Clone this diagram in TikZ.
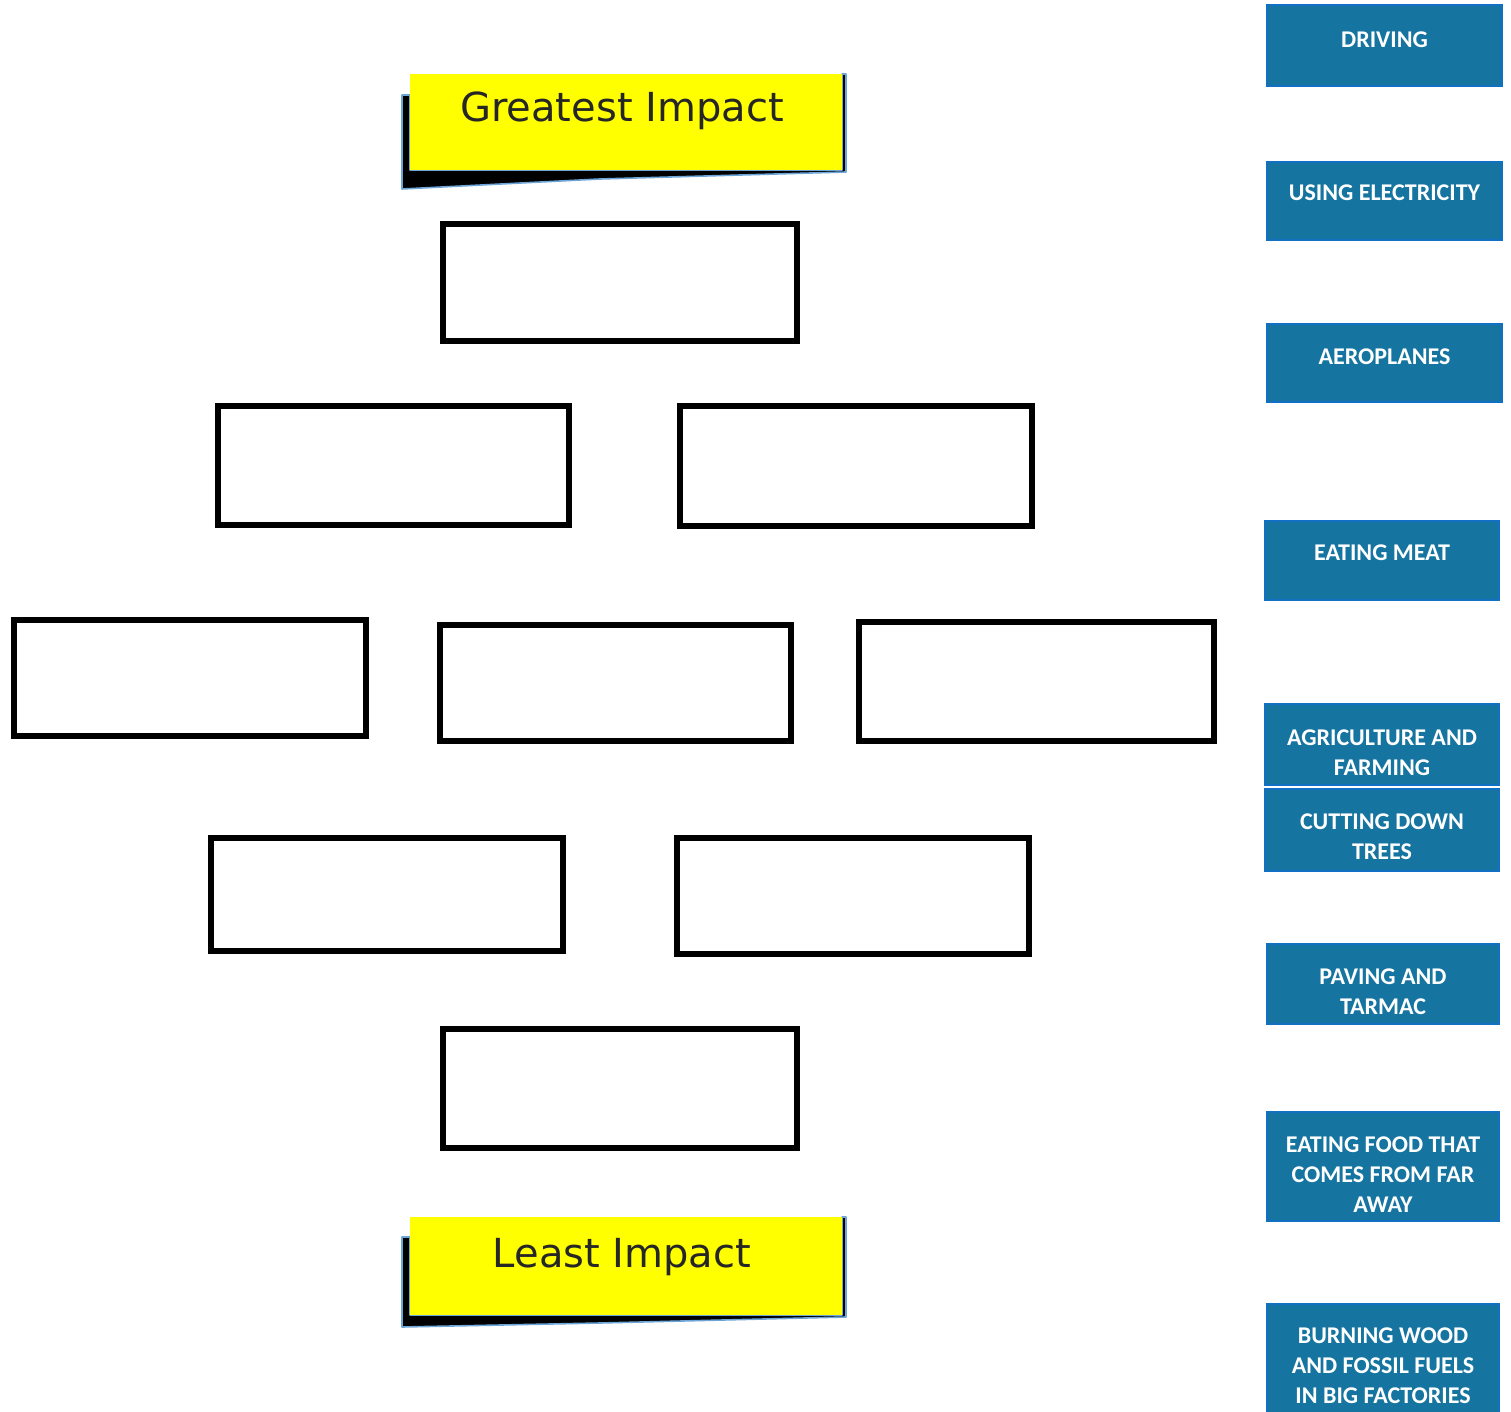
\documentclass[tikz,border=0pt]{standalone}
\usepackage{fontspec}
\setmainfont{Carlito}
\newfontfamily\dvsans{DejaVu Sans}
\usetikzlibrary{fit}
\definecolor{tileblue}{RGB}{22,116,160}
\definecolor{tileedge}{RGB}{18,112,196}
\definecolor{hiyellow}{RGB}{255,255,0}
\definecolor{blurblue}{RGB}{110,165,215}
\begin{document}
\begin{tikzpicture}[x=0.5pt,y=-0.5pt,
  slot/.style={draw=black, line width=2.6pt, inner sep=0pt},
  tile/.style={fill=tileblue, draw=tileedge, line width=0.8pt, inner sep=0pt},
  tiletext/.style={text=white, font=\bfseries\fontsize{12}{15}\selectfont, align=center, inner sep=0pt},
  banner/.style={fill=hiyellow, inner sep=0pt},
  bannertext/.style={font=\dvsans\fontsize{20}{24}\selectfont, anchor=base, inner sep=0pt, text=black!85},
  bshadow/.style={fill=black, draw=blurblue, line width=0.8pt, line join=round}]
\useasboundingbox (0,0) rectangle (1511,1412);

% Greatest impact banner
\filldraw[bshadow] (402,95) -- (410,95) -- (410,170) -- (842,170) -- (842,74) -- (846,74) -- (846,172) -- (600,179) -- (402,189) -- cycle;
\node[banner, fit={(410,74)(842,170)}] (great) {};
\node[bannertext] (greatt) at (622,122) {Greatest Impact};

% Least impact banner
\filldraw[bshadow] (402,1237) -- (410,1237) -- (410,1315) -- (842,1315) -- (842,1217) -- (846,1217) -- (846,1317) -- (600,1323) -- (402,1327) -- cycle;
\node[banner, fit={(410,1217)(842,1315)}] (least) {};
\node[bannertext] (leastt) at (622,1267) {Least Impact};

% empty slots
\node[slot, fit={(443,224)(797,341)}] (s1) {};
\node[slot, fit={(218,406)(569,525)}] (s2a) {};
\node[slot, fit={(680,406)(1032,526)}] (s2b) {};
\node[slot, fit={(14,620)(366,736)}] (s3a) {};
\node[slot, fit={(440,625)(791,741)}] (s3b) {};
\node[slot, fit={(859,622)(1214,741)}] (s3c) {};
\node[slot, fit={(211,838)(563,951)}] (s4a) {};
\node[slot, fit={(677,838)(1029,954)}] (s4b) {};
\node[slot, fit={(443,1029)(797,1148)}] (s5) {};

% blue tiles
\node[tile, fit={(1267,5)(1502,86)}] (drive) {};
\node[tiletext] (drivet) at (1384.5,39.5) {DRIVING};
\node[tile, fit={(1267,162)(1502,240)}] (elec) {};
\node[tiletext] (elect) at (1384.5,193) {USING ELECTRICITY};
\node[tile, fit={(1267,324)(1502,402)}] (aero) {};
\node[tiletext] (aerot) at (1384.5,357) {AEROPLANES};
\node[tile, fit={(1265,521)(1499,600)}] (meat) {};
\node[tiletext] (meatt) at (1382,553) {EATING MEAT};
\node[tile, fit={(1265,704)(1499,785)}] (agri) {};
\node[tiletext] (agrit) at (1382,753) {AGRICULTURE AND\\FARMING};
\node[tile, fit={(1265,789)(1499,871)}] (cut) {};
\node[tiletext] (cutt) at (1382,837) {CUTTING DOWN\\TREES};
\node[tile, fit={(1267,944)(1499,1024)}] (pave) {};
\node[tiletext] (pavet) at (1383,992) {PAVING AND\\TARMAC};
\node[tile, fit={(1267,1112)(1499,1221)}] (food) {};
\node[tiletext] (foodt) at (1383,1175) {EATING FOOD THAT\\COMES FROM FAR\\AWAY};
\node[tile, fit={(1267,1304)(1499,1420)}] (burn) {};
\node[tiletext] (burnt) at (1383,1366) {BURNING WOOD\\AND FOSSIL FUELS\\IN BIG FACTORIES};
\end{tikzpicture}
\end{document}
